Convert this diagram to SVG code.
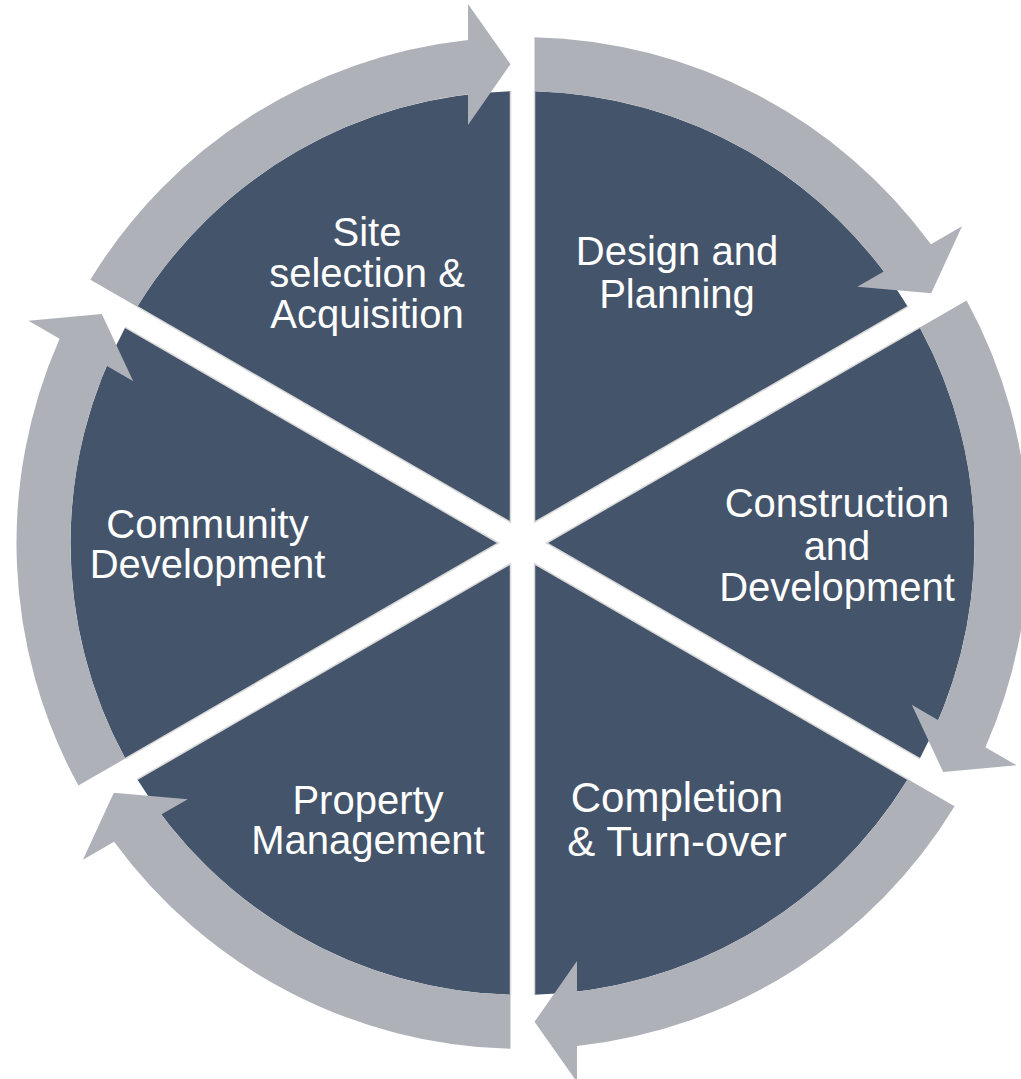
<svg xmlns="http://www.w3.org/2000/svg" width="1021" height="1079" viewBox="0 0 1021 1079">
<style>
.sector{fill:#44546A}
.edge{fill:none;stroke:#D9D9D9;stroke-width:1.5}
.arrow{fill:#AEB1B8}
.label{fill:#FFFFFF;font-family:"Liberation Sans",Arial,sans-serif;font-size:40px;text-anchor:middle}
</style>
<rect width="1021" height="1079" fill="#FFFFFF"/>
<g id="node-site">
<path class="sector" d="M510.5 522.22 L137.21 306.69 A452 452 0 0 1 510.5 91.16 Z"/>
<path class="edge" d="M137.21 306.69 L510.5 522.22 L510.5 91.16"/>
<text class="label"><tspan x="367" y="246">Site</tspan><tspan x="367" y="287">selection &amp;</tspan><tspan x="367" y="328">Acquisition</tspan></text>
</g>
<g id="node-design">
<path class="sector" d="M534.5 522.22 L534.5 91.16 A452 452 0 0 1 907.79 306.69 Z"/>
<path class="edge" d="M534.5 91.16 L534.5 522.22 L907.79 306.69"/>
<text class="label"><tspan x="677" y="265">Design and</tspan><tspan x="677" y="308">Planning</tspan></text>
</g>
<g id="node-construction">
<path class="sector" d="M546.5 543 L919.79 327.47 A452 452 0 0 1 919.79 758.53 Z"/>
<path class="edge" d="M919.79 327.47 L546.5 543 L919.79 758.53"/>
<text class="label"><tspan x="837" y="517">Construction</tspan><tspan x="837" y="560">and</tspan><tspan x="837" y="601">Development</tspan></text>
</g>
<g id="node-completion">
<path class="sector" d="M534.5 563.78 L907.79 779.31 A452 452 0 0 1 534.5 994.84 Z"/>
<path class="edge" d="M907.79 779.31 L534.5 563.78 L534.5 994.84"/>
<text class="label" style="font-size:42px"><tspan x="677" y="812">Completion</tspan><tspan x="677" y="856">&amp; Turn-over</tspan></text>
</g>
<g id="node-property">
<path class="sector" d="M510.5 563.78 L510.5 994.84 A452 452 0 0 1 137.21 779.31 Z"/>
<path class="edge" d="M510.5 994.84 L510.5 563.78 L137.21 779.31"/>
<text class="label"><tspan x="368" y="814">Property</tspan><tspan x="368" y="854">Management</tspan></text>
</g>
<g id="node-community">
<path class="sector" d="M498.5 543 L125.21 758.53 A452 452 0 0 1 125.21 327.47 Z"/>
<path class="edge" d="M125.21 758.53 L498.5 543 L125.21 327.47"/>
<text class="label"><tspan x="207.5" y="538">Community</tspan><tspan x="207.5" y="578">Development</tspan></text>
</g>
<g id="connectors">
<path class="arrow" d="M137.21 306.69 L90.41 279.68 A506 506 0 0 1 468 39.94 L468 4 L510.5 64.15 L468 125 L468 94.3 A452 452 0 0 0 137.21 306.69 Z"/>
<path class="arrow" d="M534.5 91.16 L534.5 37.14 A506 506 0 0 1 930.91 244.27 L962.04 226.3 L931.2 293.18 L857.25 286.8 L883.84 271.45 A452 452 0 0 0 534.5 91.16 Z"/>
<path class="arrow" d="M919.79 327.47 L966.59 300.46 A506 506 0 0 1 985.41 747.33 L1016.54 765.3 L943.2 772.04 L911.75 704.8 L938.34 720.15 A452 452 0 0 0 919.79 327.47 Z"/>
<path class="arrow" d="M907.79 779.31 L954.59 806.32 A506 506 0 0 1 577 1046.06 L577 1082 L534.5 1021.85 L577 961 L577 991.7 A452 452 0 0 0 907.79 779.31 Z"/>
<path class="arrow" d="M510.5 994.84 L510.5 1048.86 A506 506 0 0 1 114.09 841.73 L82.96 859.7 L113.8 792.82 L187.75 799.2 L161.16 814.55 A452 452 0 0 0 510.5 994.84 Z"/>
<path class="arrow" d="M125.21 758.53 L78.41 785.54 A506 506 0 0 1 59.59 338.67 L28.46 320.7 L101.8 313.96 L133.25 381.2 L106.66 365.85 A452 452 0 0 0 125.21 758.53 Z"/>
</g>
</svg>
